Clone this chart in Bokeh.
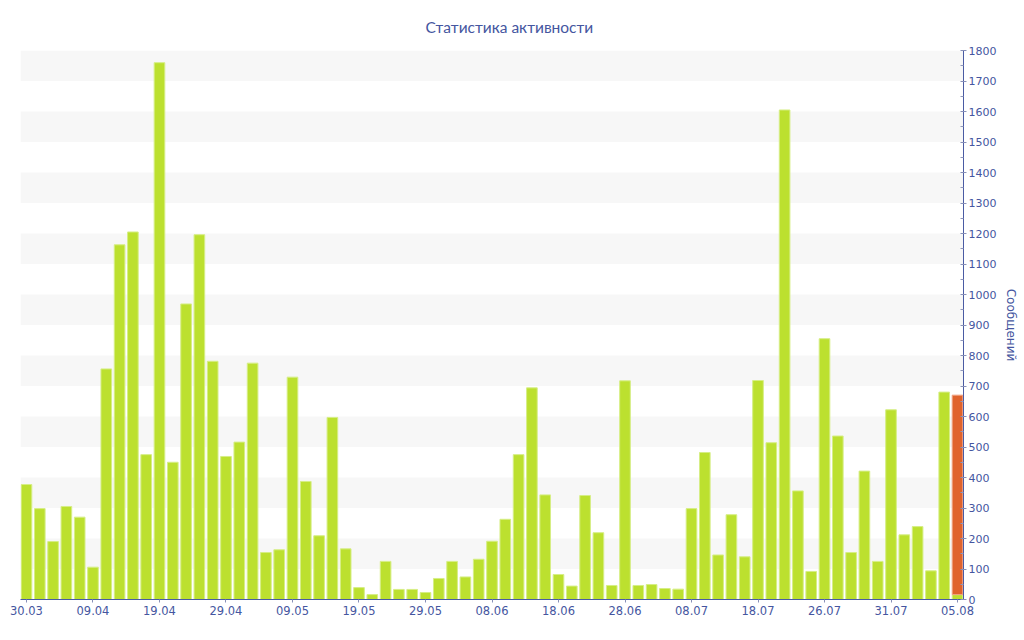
from bokeh.plotting import figure
from bokeh.models import ColumnDataSource, FixedTicker, Range1d
from bokeh.embed import file_html
from bokeh.resources import INLINE

# ---- data ----
messages = [377, 298, 190, 305, 270, 106, 756, 1163, 1205, 475,
            1760, 450, 969, 1196, 781, 469, 516, 775, 154, 163,
            729, 387, 209, 597, 166, 39, 16, 125, 33, 33,
            23, 69, 125, 74, 132, 191, 263, 475, 694, 343,
            82, 44, 341, 219, 46, 717, 46, 49, 36, 34,
            298, 482, 146, 278, 140, 718, 514, 1605, 356, 92,
            855, 536, 154, 421, 125, 622, 212, 239, 94, 680,
            16]
today_extra = [0] * 70 + [654]
tick_labels = ["30.03", "09.04", "19.04", "29.04", "09.05", "19.05", "29.05",
               "08.06", "18.06", "28.06", "08.07", "18.07", "26.07", "31.07", "05.08"]
y_ticks = list(range(0, 1801, 100))

n = len(messages)
xs = list(range(n))
label_step = 5
tick_pos = [i * label_step for i in range(len(tick_labels))]

TEXT = "#4556a0"
AXIS = "#4a5ba3"

p = figure(frame_width=943, frame_height=549,
           x_range=Range1d(-0.45, n - 1 + 0.45), y_range=Range1d(0, 1800),
           y_axis_location="right", output_backend="svg", toolbar_location=None,
           title="Статистика активности",
           min_border_left=20, min_border_top=24, min_border_bottom=10, min_border_right=0)
p.outline_line_color = None
p.background_fill_color = "white"

src = ColumnDataSource(dict(x=xs, top=messages))
p.vbar(x="x", top="top", bottom=0, width=0.8, source=src,
       fill_color="#bce02f", line_color="#d6ee86", line_width=1)

ox = [x for x, e in zip(xs, today_extra) if e > 0]
ob = [m for m, e in zip(messages, today_extra) if e > 0]
ot = [m + e for m, e in zip(messages, today_extra) if e > 0]
p.vbar(x=ox, bottom=ob, top=ot, width=0.8,
       fill_color="#e0632d", line_color="#f0a283", line_width=1)

# title
p.title.text_color = TEXT
p.title.text_font = "Lato"
p.title.text_font_size = "15.5px"
p.title.text_font_style = "normal"
p.title.align = "left"
p.title.standoff = 30
p.title.offset = 405

# grid
p.xgrid.grid_line_color = None
p.ygrid.grid_line_color = None
p.ygrid.ticker = FixedTicker(ticks=y_ticks)
p.ygrid.band_fill_color = "#f7f7f7"
p.ygrid.band_fill_alpha = 1.0

# y axis (right)
ya = p.yaxis[0]
ya.ticker = FixedTicker(ticks=y_ticks, minor_ticks=[t + 50 for t in y_ticks[:-1]])
ya.axis_label = "Сообщений"
ya.axis_label_text_font = "DejaVu Sans"
ya.axis_label_text_font_size = "12px"
ya.axis_label_text_font_style = "normal"
ya.axis_label_text_color = TEXT
ya.axis_label_standoff = 5
ya.major_label_text_font = "DejaVu Sans"
ya.major_label_text_font_size = "11px"
ya.major_label_text_color = TEXT
ya.major_label_standoff = 2
ya.axis_line_color = AXIS
ya.major_tick_line_color = "#8890b8"
ya.minor_tick_line_color = "#9098bc"
ya.major_tick_in = 3
ya.major_tick_out = 3
ya.minor_tick_in = 3
ya.minor_tick_out = 0

# x axis
xa = p.xaxis[0]
xa.ticker = FixedTicker(ticks=tick_pos)
xa.major_label_overrides = {t: lab for t, lab in zip(tick_pos, tick_labels)}
xa.major_label_text_font = "DejaVu Sans"
xa.major_label_text_font_size = "11.5px"
xa.major_label_text_color = TEXT
xa.major_label_standoff = 3
xa.axis_line_color = AXIS
xa.major_tick_line_color = "#8890b8"
xa.major_tick_in = 0
xa.major_tick_out = 3
xa.minor_tick_line_color = None

open("out.html", "w").write(file_html(p, INLINE))
